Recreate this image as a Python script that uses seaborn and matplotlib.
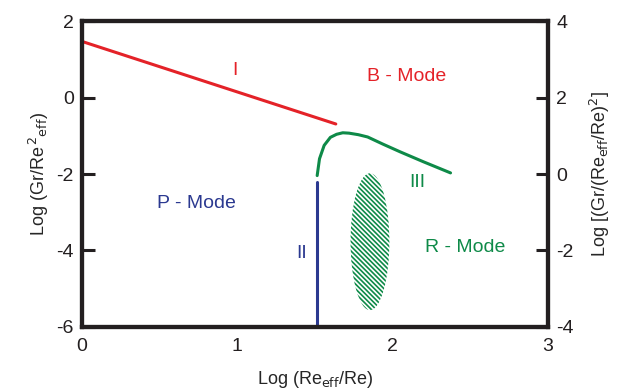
import numpy as np
import pandas as pd
import seaborn as sns
import matplotlib.pyplot as plt
from matplotlib.patches import Ellipse

# boundary I (red)
x_one = [0.0, 1.635]
y_one = [1.47, -0.69]
# boundary II (blue, vertical)
x_two = [1.515, 1.515]
y_two = [-6.0, -2.2]
# boundary III (green curve)
x_three = [1.515, 1.53, 1.56, 1.60, 1.64, 1.68, 1.72, 1.78, 1.84, 1.94, 2.05, 2.20, 2.374]
y_three = [-2.04, -1.60, -1.25, -1.04, -0.96, -0.92, -0.93, -0.97, -1.03, -1.22, -1.42, -1.68, -1.97]
# hatched region
ell_center = (1.855, -3.77)
ell_width = 0.25
ell_height = 3.58

red = '#E42228'
blue = '#2B3990'
green = '#0E8A48'

sns.set_style('white')
plt.rcParams['font.family'] = ['Liberation Sans', 'DejaVu Sans']
plt.rcParams['axes.unicode_minus'] = False

fig = plt.figure(figsize=(6.21, 3.92), dpi=100)
ax = fig.add_axes([0.132, 0.166, 0.750, 0.780])

sns.lineplot(x=x_one, y=y_one, ax=ax, color=red, lw=2.2, sort=False)
sns.lineplot(x=x_two, y=y_two, ax=ax, color=blue, lw=2.2, sort=False, estimator=None)
sns.lineplot(x=x_three, y=y_three, ax=ax, color=green, lw=2.2, sort=False)

plt.rcParams['hatch.color'] = green
plt.rcParams['hatch.linewidth'] = 1.2
ax.add_patch(Ellipse(ell_center, ell_width, ell_height, facecolor='white',
                     edgecolor=green, hatch='\\' * 7, lw=0))

ax.set_xlim(0, 3)
ax.set_ylim(-6, 2)
ax.set_xticks([0, 1, 2, 3])
ax.set_yticks([-6, -4, -2, 0, 2])
ax.tick_params(direction='in', length=9, width=2.2, labelsize=14, colors='#231F20', pad=6)
ax.tick_params(axis='x', pad=8)
for s in ax.spines.values():
    s.set_linewidth(3)
    s.set_color('#231F20')

ax2 = ax.twinx()
ax2.set_ylim(-4, 4)
ax2.set_yticks([-4, -2, 0, 2, 4])
ax2.tick_params(direction='in', length=9, width=2.2, labelsize=14, colors='#231F20', pad=6)
for s in ax2.spines.values():
    s.set_linewidth(3)
    s.set_color('#231F20')

ax.set_xlabel(r'Log (Re$_{\mathrm{eff}}$/Re)', fontsize=13, labelpad=10)
ax.set_ylabel(r'Log (Gr/Re$^{\,2}$$_{\mathrm{eff}}$)', fontsize=13, labelpad=4)
ax2.set_ylabel(r'Log [(Gr/(Re$_{\mathrm{eff}}$/Re)$^{2}$]', fontsize=13, labelpad=10)

ax.text(0.985, 0.72, 'I', color=red, fontsize=14, ha='center', va='center')
ax.text(2.09, 0.56, 'B - Mode', color=red, fontsize=14, ha='center', va='center')
ax.text(0.74, -2.78, 'P - Mode', color=blue, fontsize=14, ha='center', va='center')
ax.text(1.417, -4.09, 'II', color=blue, fontsize=14, ha='center', va='center')
ax.text(2.16, -2.21, 'III', color=green, fontsize=14, ha='center', va='center')
ax.text(2.47, -3.93, 'R - Mode', color=green, fontsize=14, ha='center', va='center')

fig.savefig('out.png', dpi=100)
